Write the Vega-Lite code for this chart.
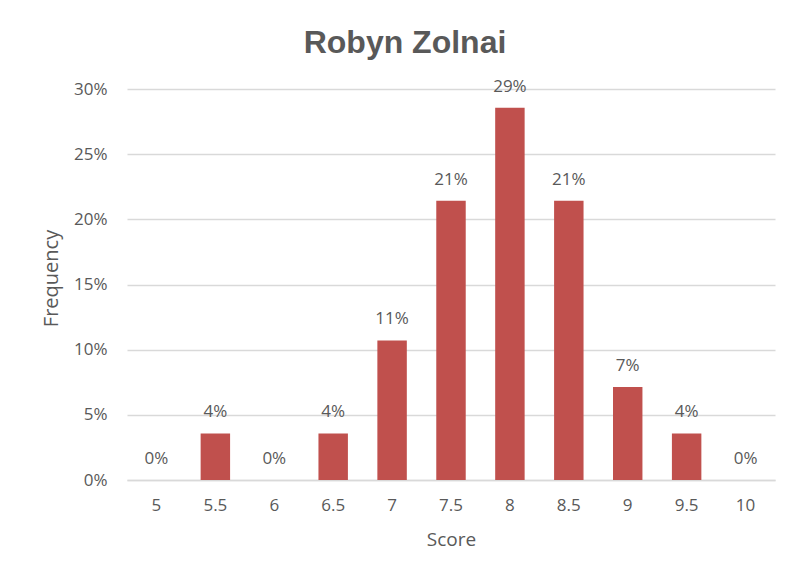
{
  "$schema": "https://vega.github.io/schema/vega-lite/v6.json",
  "autosize": {"type": "none"},
  "width": 648,
  "height": 391,
  "padding": {"left": 127, "top": 89, "right": 14, "bottom": 99},
  "background": "white",
  "title": {
    "text": "Robyn Zolnai",
    "font": "Liberation Sans",
    "fontSize": 32,
    "fontWeight": "bold",
    "color": "#595959",
    "anchor": "middle",
    "dx": -46,
    "offset": 18
  },
  "data": {
    "values": [
      {"score": "5", "freq": 0},
      {"score": "5.5", "freq": 0.0357},
      {"score": "6", "freq": 0},
      {"score": "6.5", "freq": 0.0357},
      {"score": "7", "freq": 0.1071},
      {"score": "7.5", "freq": 0.2143},
      {"score": "8", "freq": 0.2857},
      {"score": "8.5", "freq": 0.2143},
      {"score": "9", "freq": 0.0714},
      {"score": "9.5", "freq": 0.0357},
      {"score": "10", "freq": 0}
    ]
  },
  "config": {
    "view": {"stroke": null},
    "font": "Open Sans"
  },
  "encoding": {
    "x": {
      "field": "score",
      "type": "ordinal",
      "sort": null,
      "title": "Score",
      "scale": {"paddingInner": 0.5, "paddingOuter": 0.25},
      "axis": {
        "labelAngle": 0,
        "labelFont": "Open Sans",
        "labelFontSize": 17,
        "labelColor": "#595959",
        "labelPadding": 17,
        "ticks": false,
        "domain": true,
        "domainColor": "#d9d9d9",
        "domainWidth": 1.5,
        "titleFont": "Open Sans",
        "titleFontSize": 19,
        "titleFontWeight": "normal",
        "titleColor": "#595959",
        "titlePadding": 17
      }
    },
    "y": {
      "field": "freq",
      "type": "quantitative",
      "title": "Frequency",
      "scale": {"domain": [0, 0.3]},
      "axis": {
        "values": [0, 0.05, 0.1, 0.15, 0.2, 0.25, 0.3],
        "format": ".0%",
        "labelFont": "Open Sans",
        "labelFontSize": 17,
        "labelColor": "#595959",
        "labelPadding": 20,
        "ticks": false,
        "domain": false,
        "grid": true,
        "gridColor": "#d9d9d9",
        "gridWidth": 1.5,
        "titleFont": "Open Sans",
        "titleFontSize": 20,
        "titleFontWeight": "normal",
        "titleColor": "#595959",
        "titlePadding": 12,
        "titleY": 189
      }
    }
  },
  "layer": [
    {
      "mark": {"type": "bar", "color": "#c0504d"}
    },
    {
      "mark": {
        "type": "text",
        "baseline": "bottom",
        "dy": -12,
        "font": "Open Sans",
        "fontSize": 17,
        "color": "#595959"
      },
      "encoding": {
        "text": {"field": "freq", "type": "quantitative", "format": ".0%"}
      }
    }
  ]
}
